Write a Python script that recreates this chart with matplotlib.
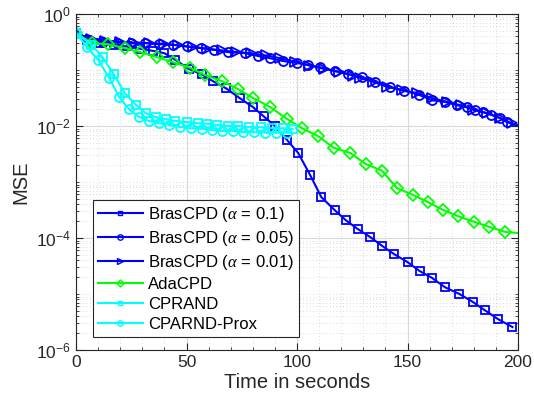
import numpy as np
import matplotlib
matplotlib.use("Agg")
import matplotlib.pyplot as plt
from matplotlib.ticker import LogLocator, MultipleLocator, LogFormatterSciNotation, NullFormatter

plt.rcParams["font.family"] = ["Liberation Sans", "DejaVu Sans"]
plt.rcParams["mathtext.fontset"] = "custom"
plt.rcParams["mathtext.rm"] = "Liberation Sans"
plt.rcParams["mathtext.it"] = "Liberation Serif:italic"

# ---- data (MSE as log10) ----
t_a01 = [0, 5, 11, 17, 23, 29, 35, 40, 45, 51, 57, 62, 68, 74, 80, 85, 90, 95.5,
         100.5, 106, 111, 117, 122, 127.5, 133, 138.5, 144, 150, 155.5, 161, 167,
         173.5, 179.5, 185, 191, 197.5]
log_a01 = [-0.34, -0.47, -0.52, -0.55, -0.58, -0.62, -0.66, -0.70, -0.82, -0.98,
           -1.08, -1.20, -1.33, -1.50, -1.66, -1.83, -2.00, -2.25, -2.48, -2.88,
           -3.27, -3.50, -3.68, -3.84, -3.98, -4.14, -4.29, -4.43, -4.59, -4.71,
           -4.88, -5.00, -5.14, -5.29, -5.45, -5.59]

t_a005 = [0, 6, 12, 18.5, 25, 31, 37.5, 44, 50, 56.5, 62.5, 68.8, 76.5, 82.4, 87.8,
          93.7, 100, 105, 110.4, 117.2, 123, 129.4, 135.5, 142, 148.5, 155, 161, 167,
          172.4, 177, 180.5, 184, 188, 191.9, 195, 200]
log_a005 = [-0.34, -0.46, -0.50, -0.51, -0.52, -0.52, -0.54, -0.55, -0.58, -0.61,
            -0.64, -0.68, -0.70, -0.75, -0.79, -0.84, -0.875, -0.91, -0.95, -1.02,
            -1.07, -1.125, -1.21, -1.30, -1.37, -1.44, -1.54, -1.57, -1.63, -1.66,
            -1.71, -1.75, -1.80, -1.86, -1.93, -2.00]

t_a001 = [0, 6.6, 13.2, 19.8, 26.4, 33, 39.6, 46.2, 52.8, 59.4, 66, 72.6, 79.2, 85.8,
          92.4, 99, 105.6, 112.2, 118.8, 125.4, 128.5, 134.4, 140.7, 147.5, 154.3,
          161, 168, 174, 179.6, 186, 191.9, 197.3, 200]
log_a001 = [-0.34, -0.44, -0.48, -0.50, -0.51, -0.52, -0.53, -0.56, -0.59, -0.62,
            -0.65, -0.68, -0.70, -0.74, -0.79, -0.85, -0.92, -0.98, -1.03, -1.10,
            -1.14, -1.21, -1.30, -1.36, -1.41, -1.50, -1.57, -1.63, -1.71, -1.77,
            -1.86, -1.95, -1.99]

t_ada = [0, 7.2, 14.5, 22.2, 29, 36.7, 43.9, 51.6, 58.4, 66.1, 73.3, 80.1, 87.8,
         95.5, 102.3, 109.5, 116.7, 124, 131.2, 138.5, 145.2, 152.5, 159.3, 166.1,
         172.9, 180.1, 186.9, 194.1, 200]
log_ada = [-0.34, -0.52, -0.54, -0.61, -0.68, -0.77, -0.86, -0.96, -1.09, -1.20,
           -1.34, -1.50, -1.66, -1.875, -2.04, -2.18, -2.39, -2.48, -2.68, -2.80,
           -3.11, -3.23, -3.36, -3.50, -3.61, -3.71, -3.80, -3.89, -3.91]

t_cprand = [0, 7, 12, 17, 22, 27, 31.5, 36, 40.5, 45, 50, 55, 59.5, 64, 69, 73.5,
            78.5, 83.5, 88.5, 93.5, 98]
log_cprand = [-0.34, -0.55, -0.77, -1.07, -1.41, -1.62, -1.77, -1.84, -1.875, -1.91,
              -1.93, -1.95, -1.96, -1.98, -2.00, -2.00, -2.02, -2.02, -2.04, -2.04,
              -2.05]

t_prox = [0, 5, 10, 15, 19.5, 24, 28.5, 33, 37.5, 42, 47, 52, 57, 61.5, 66, 71,
          75.5, 80.5, 85.5, 90.5, 95.5]
log_prox = [-0.34, -0.59, -0.82, -1.14, -1.48, -1.70, -1.84, -1.91, -1.95, -1.98,
            -2.02, -2.04, -2.05, -2.07, -2.09, -2.09, -2.11, -2.11, -2.12, -2.12,
            -2.12]

BLUE = "#0000ff"
GREEN = "#00ff00"
CYAN = "#00ffff"

# (times, log10 mse, colour, marker, marker size, label, markevery)
series = [
    (t_a01, log_a01, BLUE, "s", 6, r"BrasCPD ($\alpha$ = 0.1)", None),
    (t_a005, log_a005, BLUE, "o", 6.5, r"BrasCPD ($\alpha$ = 0.05)", slice(0, -1)),
    (t_a001, log_a001, BLUE, ">", 7, r"BrasCPD ($\alpha$ = 0.01)", slice(0, -1)),
    (t_ada, log_ada, GREEN, "D", 6, "AdaCPD", slice(0, -1)),
    (t_cprand, log_cprand, CYAN, "s", 6, "CPRAND", None),
    (t_prox, log_prox, CYAN, "o", 6.5, "CPARND-Prox", None),
]

fig = plt.figure(figsize=(5.34, 4.08), dpi=100)
ax = fig.add_axes([76 / 534, 1 - 350 / 408, 442 / 534, 336 / 408])

for t, lg, col, mk, ms, lab, mev in series:
    ax.semilogy(t, 10.0 ** np.array(lg), color=col, lw=1.5, marker=mk,
                markersize=ms, markerfacecolor="none", markeredgewidth=1.3,
                markevery=mev, label=lab)

ax.set_xlim(0, 200)
ax.set_ylim(1e-6, 1)
ax.xaxis.set_major_locator(MultipleLocator(50))
ax.xaxis.set_minor_locator(MultipleLocator(10))
ax.set_yticks([1e-6, 1e-4, 1e-2, 1e0])
ax.yaxis.set_major_formatter(LogFormatterSciNotation())
ax.yaxis.set_minor_locator(LogLocator(base=10, subs=np.arange(1, 10) * 1.0, numticks=20))
ax.yaxis.set_minor_formatter(NullFormatter())

ax.grid(True, which="major", color="#d9d9d9", lw=0.8, ls="-")
ax.grid(True, which="minor", color="#cfcfcf", lw=0.6, ls=(0, (1, 3)))
ax.set_axisbelow(True)

axc = "#262626"
for sp in ax.spines.values():
    sp.set_color(axc)
    sp.set_linewidth(0.8)
ax.tick_params(which="both", direction="in", top=True, right=True, colors=axc,
               labelsize=12.5, labelcolor=axc)
ax.tick_params(which="major", length=5)
ax.tick_params(which="minor", length=2.5)

ax.set_xlabel("Time in seconds", fontsize=14.5, color=axc, labelpad=2)
ax.set_ylabel("MSE", fontsize=14.5, color=axc, labelpad=4)

leg = ax.legend(loc="lower left", bbox_to_anchor=(0.038, 0.039), borderaxespad=0,
                fontsize=12, handlelength=2.7, handletextpad=0.3,
                labelspacing=0.3, borderpad=0.3, fancybox=False, framealpha=1,
                edgecolor=axc, markerscale=0.6)
leg.get_frame().set_linewidth(0.8)
for h in leg.legend_handles:
    h.set_markeredgewidth(1.0)

fig.savefig("out.png", dpi=100)
